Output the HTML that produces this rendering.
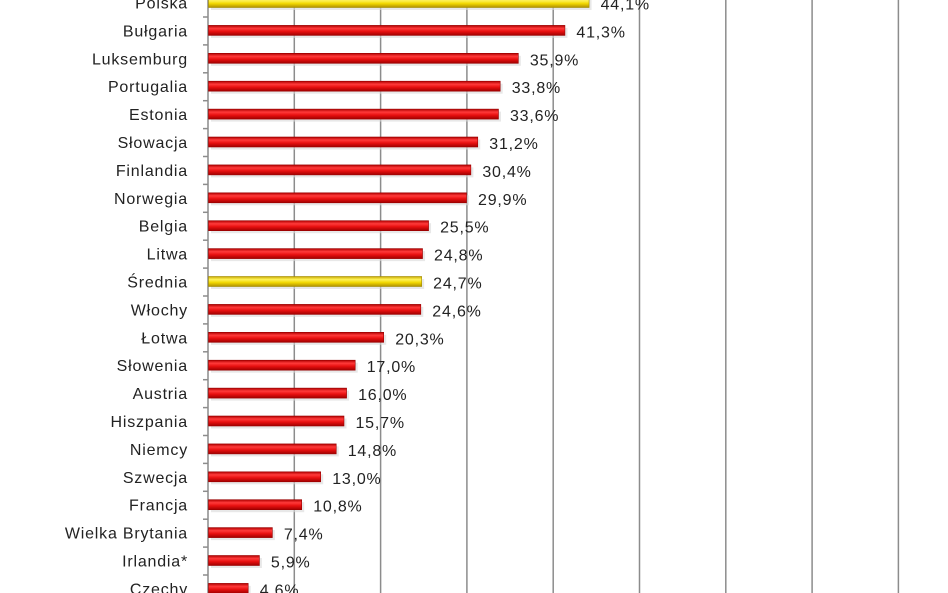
<!DOCTYPE html>
<html><head><meta charset="utf-8"><style>
html,body{margin:0;padding:0;background:#fff;}
svg{display:block;}
text{font-family:"Liberation Sans","DejaVu Sans",sans-serif;font-size:16px;fill:#222;letter-spacing:0.8px;}
</style></head><body>
<svg width="948" height="593" viewBox="0 0 948 593" xmlns="http://www.w3.org/2000/svg">
<defs>
<linearGradient id="r" x1="0" y1="0" x2="0" y2="1">
<stop offset="0" stop-color="#b00000"/><stop offset="0.3" stop-color="#ff3a3a"/><stop offset="0.6" stop-color="#e81010"/><stop offset="1" stop-color="#a00000"/></linearGradient>
<linearGradient id="y" x1="0" y1="0" x2="0" y2="1">
<stop offset="0" stop-color="#c8a800"/><stop offset="0.3" stop-color="#fff35a"/><stop offset="0.6" stop-color="#f2d800"/><stop offset="1" stop-color="#b09000"/></linearGradient>
</defs>
<g stroke="#8c8c8c" stroke-width="1.5">
<line x1="294.3" y1="0" x2="294.3" y2="593"/><line x1="380.6" y1="0" x2="380.6" y2="593"/>
<line x1="466.9" y1="0" x2="466.9" y2="593"/><line x1="553.2" y1="0" x2="553.2" y2="593"/>
<line x1="639.5" y1="0" x2="639.5" y2="593"/><line x1="725.8" y1="0" x2="725.8" y2="593"/>
<line x1="812.1" y1="0" x2="812.1" y2="593"/><line x1="898.4" y1="0" x2="898.4" y2="593"/>
<line x1="208" y1="0" x2="208" y2="593"/>
</g>
<g id="bars"></g>
</svg>
<script>
var d=[["Polska",44.1,1],["Bułgaria",41.3],["Luksemburg",35.9],["Portugalia",33.8],["Estonia",33.6],["Słowacja",31.2],["Finlandia",30.4],["Norwegia",29.9],["Belgia",25.5],["Litwa",24.8],["Średnia",24.7,1],["Włochy",24.6],["Łotwa",20.3],["Słowenia",17.0],["Austria",16.0],["Hiszpania",15.7],["Niemcy",14.8],["Szwecja",13.0],["Francja",10.8],["Wielka Brytania",7.4],["Irlandia*",5.9],["Czechy",4.6]];
var g=document.getElementById('bars'),s='';
d.forEach(function(r,i){var c=3+i*27.9,w=r[1]*8.63,e=208+w;
s+='<line x1="203" x2="208" y1="'+(c+14)+'" y2="'+(c+14)+'" stroke="#8c8c8c" stroke-width="1.5"/>';
s+='<rect x="211" y="'+(c-3)+'" width="'+w+'" height="10" fill="#d8d8d8" opacity="0.6"/>';
s+='<rect x="208.5" y="'+(c-5.5)+'" width="'+w+'" height="10" fill="url(#'+(r[2]?'y':'r')+')" stroke="'+(r[2]?'#a08a00':'#900')+'" stroke-width="0.6"/>';
s+='<text x="188" y="'+(c+5.5)+'" text-anchor="end">'+r[0]+'</text>';
s+='<text x="'+(e+12)+'" y="'+(c+6.5)+'">'+r[1].toFixed(1).replace('.',',')+'%</text>';});
g.innerHTML=s;
</script>
</body></html>
